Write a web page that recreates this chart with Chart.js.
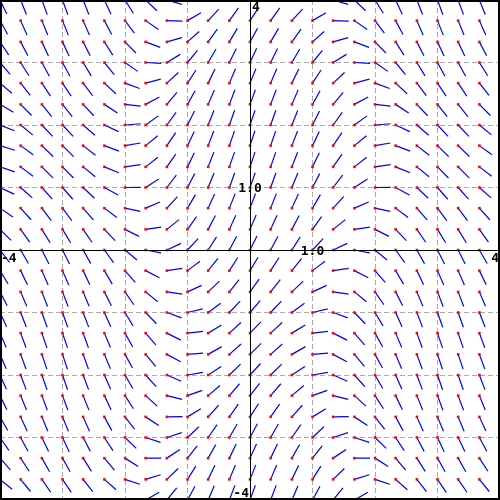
<!DOCTYPE html>
<html>
<head>
<meta charset="utf-8">
<script src="https://cdn.jsdelivr.net/npm/chart.js@4.4.1/dist/chart.umd.min.js"></script>
<style>
  html, body { margin: 0; padding: 0; background: #fff; }
  #wrap { width: 500px; height: 500px; }
</style>
</head>
<body>
<div id="wrap"><canvas id="field"></canvas></div>
<script>
// sample points of the direction field (same along x and y)
const gridX = [-4, -3.67, -3.33, -3, -2.67, -2.33, -2, -1.67, -1.33, -1, -0.67, -0.33, 0,
               0.33, 0.67, 1, 1.33, 1.67, 2, 2.33, 2.67, 3, 3.33, 3.67, 4];
const gridY = gridX.slice();

// slope read along each column (the part that changes with x)
const colSlope = [-1.31, -1.73, -1.96, -1.98, -1.78, -1.38, -0.83, -0.19, 0.47, 1.08, 1.57, 1.89, 2.00,
                  1.89, 1.57, 1.08, 0.47, -0.19, -0.83, -1.38, -1.78, -1.98, -1.96, -1.73, -1.31];
// shift of the slope along each row, bottom to top (the part that changes with y)
const rowSlope = [0.76, 0.50, 0.19, -0.14, -0.46, -0.72, -0.91, -1.00, -0.97, -0.84, -0.62, -0.33, 0,
                  0.33, 0.62, 0.84, 0.97, 1.00, 0.91, 0.72, 0.46, 0.14, -0.19, -0.50, -0.76];

const gridTicks = [-4, -3, -2, -1, 0, 1, 2, 3, 4];
const segLen = 0.25;

const dots = [];
const segs = [];
gridX.forEach((x, i) => {
  gridY.forEach((y, j) => {
    const s = colSlope[i] + rowSlope[j];
    const n = Math.sqrt(1 + s * s);
    dots.push({ x: x, y: y });
    segs.push({ x: x, y: y });
    segs.push({ x: x + segLen / n, y: y + segLen * s / n });
    segs.push({ x: x, y: null });
  });
});

// frame, axes and the few labels
const overlay = {
  id: "overlay",
  afterDraw(chart) {
    const ctx = chart.ctx;
    const xs = chart.scales.x, ys = chart.scales.y;
    const a = chart.chartArea;
    const x0 = Math.round(xs.getPixelForValue(0));
    const y0 = Math.round(ys.getPixelForValue(0));
    ctx.save();
    ctx.fillStyle = "#000";
    ctx.fillRect(a.left, a.top, a.right - a.left, 2);
    ctx.fillRect(a.left, a.bottom - 2, a.right - a.left, 2);
    ctx.fillRect(a.left, a.top, 2, a.bottom - a.top);
    ctx.fillRect(a.right - 2, a.top, 2, a.bottom - a.top);
    ctx.fillRect(x0, a.top, 1, a.bottom - a.top);
    ctx.fillRect(a.left, y0, a.right - a.left, 1);

    ctx.font = "bold 13px 'DejaVu Sans Mono'";
    ctx.textAlign = "left";
    ctx.textBaseline = "top";
    ctx.fillText("4", x0 + 2, ys.getPixelForValue(4) + 1);
    ctx.fillText("-4", xs.getPixelForValue(-4) + 1, y0 + 2);
    ctx.textAlign = "right";
    ctx.fillText("4", xs.getPixelForValue(4) - 1, y0 + 2);
    ctx.textBaseline = "bottom";
    ctx.fillText("-4", x0 - 1, ys.getPixelForValue(-4));
    ctx.textAlign = "center";
    ctx.textBaseline = "middle";
    ctx.fillText("1.0", x0, ys.getPixelForValue(1) + 1);
    ctx.fillText("1.0", xs.getPixelForValue(1), y0 + 2);
    ctx.restore();
  }
};

const axisOpts = {
  type: "linear",
  min: -4,
  max: 4,
  afterBuildTicks: (scale) => { scale.ticks = gridTicks.map(v => ({ value: v })); },
  ticks: { display: false },
  grid: { color: "#aaaaaa", lineWidth: 1, drawTicks: false },
  border: { display: false, dash: [5, 3] }
};

new Chart(document.getElementById("field"), {
  type: "line",
  data: {
    datasets: [
      {
        type: "scatter",
        data: dots,
        pointStyle: "rect",
        pointRadius: 1.8,
        pointBorderWidth: 0,
        pointBackgroundColor: "#ff0000",
        order: 0
      },
      {
        data: segs,
        borderColor: "#0000ff",
        borderWidth: 1.2,
        pointRadius: 0,
        tension: 0,
        spanGaps: false,
        order: 1
      }
    ]
  },
  options: {
    responsive: true,
    maintainAspectRatio: false,
    animation: false,
    layout: { padding: 0, autoPadding: false },
    plugins: { legend: { display: false }, tooltip: { enabled: false } },
    scales: { x: axisOpts, y: axisOpts }
  },
  plugins: [overlay]
});
</script>
</body>
</html>
